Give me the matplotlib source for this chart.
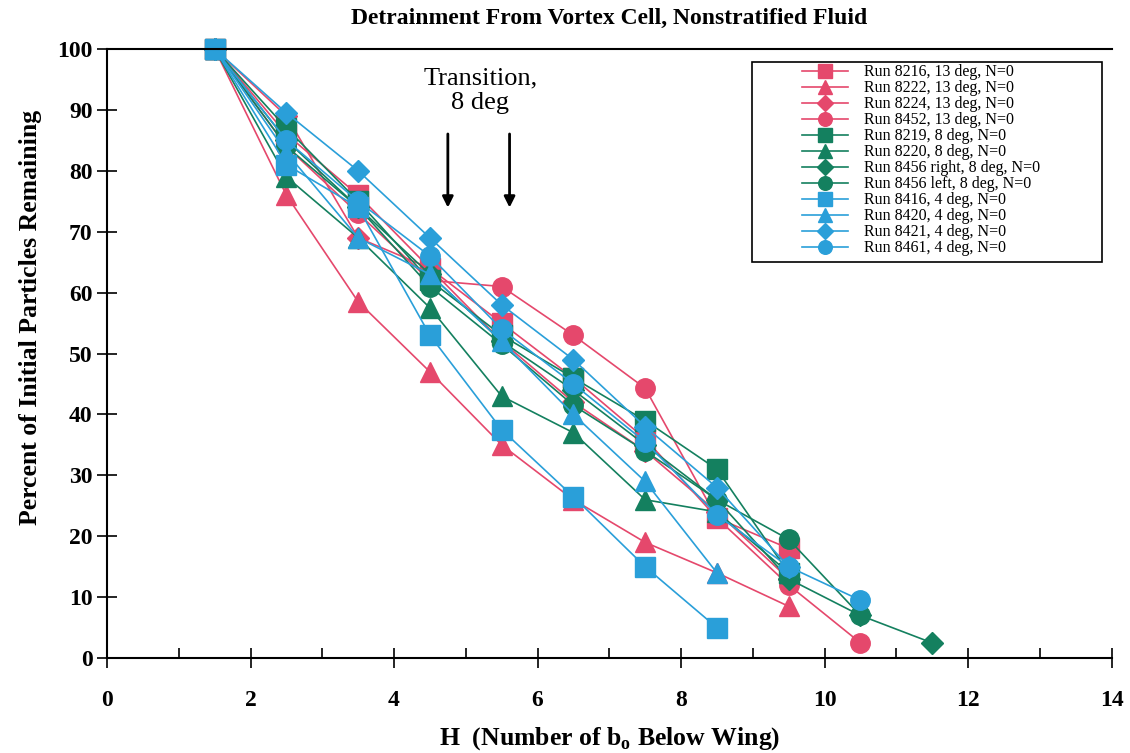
import matplotlib.pyplot as plt
from matplotlib.patches import Rectangle
from matplotlib.ticker import MultipleLocator

plt.rcParams['font.family'] = ['Liberation Serif', 'DejaVu Serif']

RED = '#e5486c'
GREEN = '#14805f'
CYAN = '#2a9fd9'

H = [1.5, 2.5, 3.5, 4.5, 5.5, 6.5, 7.5, 8.5, 9.5, 10.5, 11.5]

run_8216 = [100, 86, 76, 64, 55, 46, 36, 23, 18]
run_8222 = [100, 76, 58.5, 47, 35, 26, 19, 14, 8.5]
run_8224 = [100, 89, 69, 64, 52, 42, 34, 24, 13]
run_8452 = [100, 84, 73, 62, 61, 53, 44.3, 23, 12, 2.5]
run_8219 = [100, 87, 75, 62, 53, 46, 39, 31, 14]
run_8220 = [100, 79, 69, 57.5, 43, 37, 26, 24, 14]
run_8456r = [100, 85, 74, 63, 52, 44, 35, 26, 13, 7, 2.5]
run_8456l = [100, 84, 74, 61, 51.5, 41.5, 34, 26, 19.5, 7]
run_8416 = [100, 81, 74, 53, 37.5, 26.5, 15, 5]
run_8420 = [100, 83, 69, 63, 52, 40, 29, 14]
run_8421 = [100, 89.5, 80, 69, 58, 49, 38, 28, 15]
run_8461 = [100, 85, 75, 66, 54, 45, 35.5, 23.5, 15, 9.5]

series = [
    ('Run 8216, 13 deg, N=0', run_8216, RED, 's'),
    ('Run 8222, 13 deg, N=0', run_8222, RED, '^'),
    ('Run 8224, 13 deg, N=0', run_8224, RED, 'D'),
    ('Run 8452, 13 deg, N=0', run_8452, RED, 'o'),
    ('Run 8219, 8 deg, N=0', run_8219, GREEN, 's'),
    ('Run 8220, 8 deg, N=0', run_8220, GREEN, '^'),
    ('Run 8456 right, 8 deg, N=0', run_8456r, GREEN, 'D'),
    ('Run 8456 left, 8 deg, N=0', run_8456l, GREEN, 'o'),
    ('Run 8416, 4 deg, N=0', run_8416, CYAN, 's'),
    ('Run 8420, 4 deg, N=0', run_8420, CYAN, '^'),
    ('Run 8421, 4 deg, N=0', run_8421, CYAN, 'D'),
    ('Run 8461, 4 deg, N=0', run_8461, CYAN, 'o'),
]

fig = plt.figure(figsize=(11.3, 7.53), dpi=100)
ax = fig.add_axes([0.0947, 0.126, 0.889, 0.809])

for label, vals, col, mk in series:
    ms = {'D': 11, '^': 15, 's': 14, 'o': 14}[mk]
    ax.plot(H[:len(vals)], vals, color=col, marker=mk, markersize=ms,
            linewidth=1.2, label=label, clip_on=False)

ax.set_xlim(0, 14)
ax.set_ylim(0, 100)
ax.xaxis.set_major_locator(MultipleLocator(2))
ax.xaxis.set_minor_locator(MultipleLocator(1))
ax.yaxis.set_major_locator(MultipleLocator(10))
ax.tick_params(axis='x', which='major', direction='inout', length=14, width=1.2,
               labelsize=17, pad=16)
ax.tick_params(axis='x', which='minor', direction='in', length=7, width=1.2)
ax.tick_params(axis='y', direction='inout', length=14, width=1.2, labelsize=17)
for t in ax.get_xticklabels() + ax.get_yticklabels():
    t.set_fontweight('bold')
ax.spines['right'].set_visible(False)
for s in ['left', 'bottom', 'top']:
    ax.spines[s].set_linewidth(1.5)

ax.set_title('Detrainment From Vortex Cell, Nonstratified Fluid',
             fontsize=17, fontweight='bold', pad=18)
ax.set_xlabel('H  (Number of b$_\\mathregular{o}$ Below Wing)', fontsize=18.5,
              fontweight='bold', labelpad=10)
ax.set_ylabel('Percent of Initial Particles Remaining', fontsize=18.5,
              fontweight='bold')
ax.yaxis.set_label_coords(-0.065, 0.56)

ax.text(5.2, 97, 'Transition,\n8 deg', ha='center', va='top', fontsize=19,
        linespacing=1.15)
for xa in [4.75, 5.61]:
    ax.annotate('', xy=(xa, 73.5), xytext=(xa, 86.5),
                arrowprops=dict(arrowstyle='-|>', color='black', lw=2,
                                mutation_scale=16))

# legend box drawn separately, leaves space on the left like the original
ax.add_patch(Rectangle((0.642, 0.650), 0.348, 0.329, transform=ax.transAxes,
                       fill=False, edgecolor='black', linewidth=1.2, zorder=5))
leg = ax.legend(loc='upper left', bbox_to_anchor=(0.692, 0.975), fontsize=11.5,
                frameon=False, handlelength=2.9, handletextpad=1.0,
                labelspacing=0.0, borderpad=0.0, borderaxespad=0.0,
                markerscale=0.7)

fig.savefig('out.png', dpi=100)
